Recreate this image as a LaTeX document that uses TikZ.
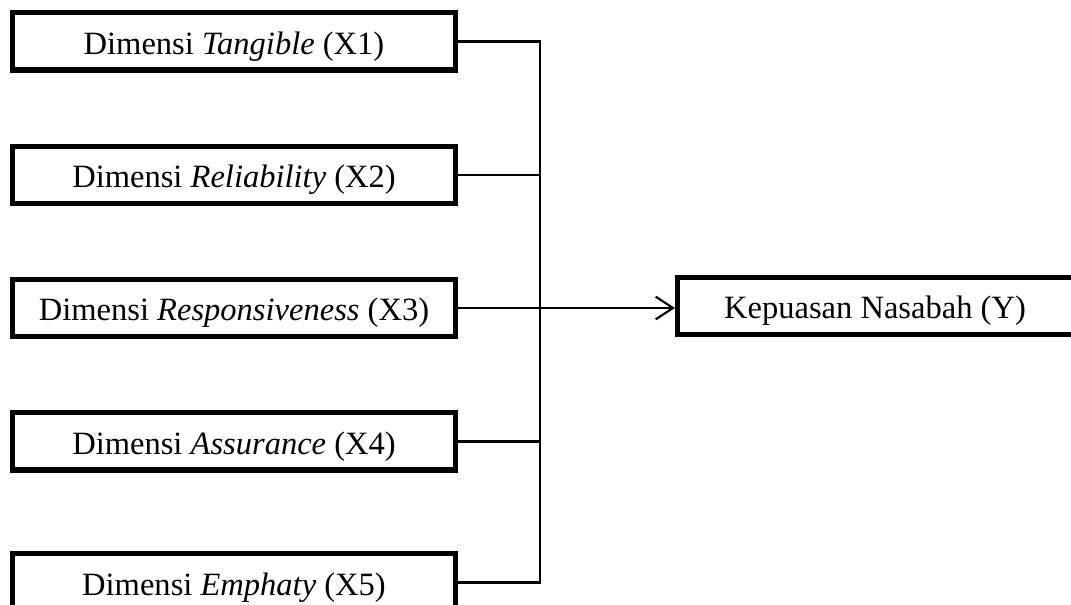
\documentclass[tikz,border=0pt]{standalone}
\usepackage{fontspec}
\setmainfont{Liberation Serif}
\usetikzlibrary{arrows.meta}
\begin{document}
\begin{tikzpicture}[x=0.75pt,y=-0.75pt,
  dimbox/.style={draw=black, line width=4.1pt, rectangle, fill=white,
    minimum width=331.9pt, minimum height=43.1pt, inner sep=0pt,
    text height=18.8pt, text depth=0pt,
    font=\fontsize{24.4}{29}\selectfont},
  ybox/.style={dimbox, minimum width=303.4pt},
  link/.style={draw=black, line width=1.6pt},
  arr/.style={link, -{Straight Barb[length=13pt,width=17pt,line width=1.6pt]}}]
\useasboundingbox (0,0) rectangle (1071,605);
\node[dimbox] (b1) at (234,41.5) {Dimensi \textit{Tangible} (X1)};
\node[dimbox] (b2) at (234,175) {Dimensi \textit{Reliability} (X2)};
\node[dimbox] (b3) at (234,308) {Dimensi \textit{Responsiveness} (X3)};
\node[dimbox] (b4) at (234,441.5) {Dimensi \textit{Assurance} (X4)};
\node[dimbox] (b5) at (234,582.5) {Dimensi \textit{Emphaty} (X5)};
\node[ybox] (y) at (880,306) {Kepuasan Nasabah (Y)\hspace*{7.5pt}};
\coordinate (bus) at (540,0);
\draw[link] (b1.east) -- (b1.east -| bus) -- (b5.east -| bus) -- (b5.east);
\draw[link] (b2.east) -- (b2.east -| bus);
\draw[link] (b4.east) -- (b4.east -| bus);
\draw[arr] (b3.east) -- (y.west |- b3.east);
\end{tikzpicture}
\end{document}
